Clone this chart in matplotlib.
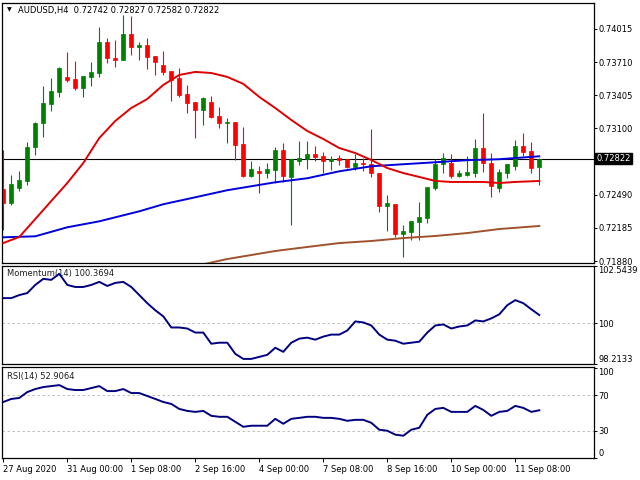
import numpy as np
import matplotlib
matplotlib.use('Agg')
import matplotlib.pyplot as plt

plt.rcParams['font.family'] = 'DejaVu Sans'
plt.rcParams['font.size'] = 6

# H4 candles, AUDUSD
opens = [0.72543, 0.72414, 0.72552, 0.72617, 0.72930, 0.73150, 0.73325, 0.73436, 0.73574, 0.73555,
         0.73472, 0.73574, 0.73610, 0.73896, 0.73748, 0.73730, 0.73969, 0.73850, 0.73868, 0.73767,
         0.73684, 0.73629, 0.73564, 0.73417, 0.73344, 0.73270, 0.73344, 0.73215, 0.73150, 0.73160,
         0.72957, 0.72663, 0.72709, 0.72690, 0.72718, 0.72902, 0.72654, 0.72801, 0.72819, 0.72865,
         0.72847, 0.72801, 0.72828, 0.72819, 0.72746, 0.72782, 0.72773, 0.72690, 0.72387, 0.72405,
         0.72129, 0.72148, 0.72240, 0.72276, 0.72552, 0.72773, 0.72782, 0.72663, 0.72672, 0.72690,
         0.72920, 0.72782, 0.72552, 0.72690, 0.72755, 0.72939, 0.72893, 0.72742]
highs = [0.72902, 0.72672, 0.72709, 0.72976, 0.73160, 0.73491, 0.73564, 0.73666, 0.73804, 0.73721,
         0.73583, 0.73712, 0.74034, 0.73932, 0.73914, 0.74144, 0.74135, 0.73896, 0.73932, 0.73767,
         0.73813, 0.73629, 0.73656, 0.73500, 0.73344, 0.73390, 0.73399, 0.73298, 0.73196, 0.73160,
         0.73114, 0.72801, 0.72755, 0.72782, 0.72930, 0.72966, 0.72819, 0.72985, 0.72985, 0.72939,
         0.72884, 0.72847, 0.72856, 0.72819, 0.72865, 0.72828, 0.73095, 0.72690, 0.72488, 0.72405,
         0.72212, 0.72249, 0.72424, 0.72562, 0.72819, 0.72874, 0.72865, 0.72718, 0.72847, 0.73003,
         0.73242, 0.72874, 0.72727, 0.72773, 0.72994, 0.73058, 0.72976, 0.72827]
lows = [0.72166, 0.72396, 0.72525, 0.72580, 0.72856, 0.73022, 0.73261, 0.73390, 0.73528, 0.73454,
        0.73390, 0.73491, 0.73574, 0.73702, 0.73666, 0.73730, 0.73776, 0.73730, 0.73647, 0.73592,
        0.73592, 0.73353, 0.73390, 0.73242, 0.73012, 0.73132, 0.73196, 0.73104, 0.72966, 0.72810,
        0.72654, 0.72654, 0.72506, 0.72644, 0.72598, 0.72608, 0.72212, 0.72764, 0.72727, 0.72801,
        0.72690, 0.72718, 0.72764, 0.72740, 0.72718, 0.72709, 0.72654, 0.72332, 0.72157, 0.72102,
        0.71918, 0.72074, 0.72074, 0.72230, 0.72534, 0.72690, 0.72644, 0.72654, 0.72663, 0.72654,
        0.72700, 0.72470, 0.72516, 0.72644, 0.72718, 0.72847, 0.72690, 0.72582]
closes = [0.72414, 0.72589, 0.72626, 0.72930, 0.73150, 0.73334, 0.73445, 0.73656, 0.73546, 0.73472,
          0.73583, 0.73620, 0.73896, 0.73748, 0.73730, 0.73969, 0.73850, 0.73868, 0.73758, 0.73712,
          0.73620, 0.73546, 0.73408, 0.73334, 0.73270, 0.73380, 0.73206, 0.73150, 0.73160, 0.72948,
          0.72663, 0.72727, 0.72690, 0.72727, 0.72902, 0.72663, 0.72819, 0.72828, 0.72865, 0.72838,
          0.72801, 0.72819, 0.72810, 0.72746, 0.72782, 0.72773, 0.72690, 0.72387, 0.72414, 0.72129,
          0.72157, 0.72249, 0.72286, 0.72562, 0.72773, 0.72828, 0.72663, 0.72690, 0.72700, 0.72920,
          0.72782, 0.72571, 0.72700, 0.72773, 0.72939, 0.72884, 0.72736, 0.72822]

# moving averages, sampled at bar indices
ma_red_idx = [0, 2, 4, 6, 8, 10, 12, 14, 16, 18, 20, 22, 24, 26, 28, 30, 32,
              34, 36, 38, 40, 42, 44, 46, 48, 50, 52, 54, 56, 58, 60, 62, 64, 67]
ma_red = [0.72046, 0.72102, 0.72267, 0.72433, 0.72598, 0.72782, 0.73012, 0.73169, 0.73288,
          0.73371, 0.73500, 0.73592, 0.73620, 0.73610, 0.73574, 0.73510, 0.73390, 0.73288,
          0.73178, 0.73077, 0.73003, 0.72920, 0.72874, 0.72810, 0.72736, 0.72690, 0.72654,
          0.72617, 0.72608, 0.72608, 0.72608, 0.72598, 0.72608, 0.72617]
ma_blue_idx = [0, 4, 8, 12, 17, 20, 24, 28, 34, 38, 42, 46, 50, 54, 58, 62, 67]
ma_blue = [0.72099, 0.72108, 0.72191, 0.72246, 0.72338, 0.72403, 0.72467, 0.72532, 0.72605,
           0.72642, 0.72706, 0.72752, 0.72771, 0.72789, 0.72808, 0.72817, 0.72844]
ma_brown_idx = [24, 28, 34, 38, 42, 46, 50, 54, 58, 62, 67]
ma_brown = [0.71835, 0.71899, 0.71973, 0.72010, 0.72046, 0.72065, 0.72092, 0.72111,
            0.72138, 0.72175, 0.72203]

momentum = [101.115, 101.115, 101.249, 101.338, 101.696, 101.964, 101.919, 102.187, 101.696, 101.606,
            101.606, 101.696, 101.830, 101.651, 101.785, 101.830, 101.606, 101.249, 100.892, 100.580,
            100.312, 99.821, 99.821, 99.776, 99.597, 99.597, 99.106, 99.151, 99.151, 98.660,
            98.437, 98.437, 98.526, 98.615, 98.928, 98.749, 99.151, 99.329, 99.374, 99.285,
            99.419, 99.508, 99.508, 99.687, 100.088, 100.044, 99.910, 99.508, 99.285, 99.240,
            99.106, 99.151, 99.196, 99.597, 99.910, 99.955, 99.776, 99.865, 99.910, 100.133,
            100.088, 100.222, 100.401, 100.803, 101.026, 100.892, 100.624, 100.3694]
rsi = [62.2, 65.6, 66.7, 73.3, 76.7, 78.9, 80.0, 81.1, 76.7, 75.6,
       75.6, 77.8, 80.0, 74.4, 74.4, 76.7, 72.2, 72.2, 68.9, 65.6,
       62.2, 60.0, 54.4, 52.2, 51.1, 52.2, 46.7, 45.6, 45.6, 40.0,
       34.4, 35.6, 35.6, 35.6, 43.3, 37.8, 43.3, 44.4, 45.6, 45.6,
       44.4, 44.4, 43.3, 41.1, 42.2, 42.2, 38.9, 31.1, 30.0, 25.6,
       24.4, 31.1, 33.3, 47.8, 54.4, 55.6, 51.1, 51.1, 51.1, 57.8,
       53.3, 46.7, 51.1, 52.2, 57.8, 55.6, 51.1, 52.9064]

price_ticks = [0.74015, 0.73710, 0.73405, 0.73100, 0.72490, 0.72185, 0.71880]
mom_ticks = [98.2133, 100, 102.5439]
rsi_ticks = [0, 30, 70, 100]
date_bars = [0, 8, 16, 24, 32, 40, 48, 56, 64]
date_labels = ['27 Aug 2020', '31 Aug 00:00', '1 Sep 08:00', '2 Sep 16:00', '4 Sep 00:00',
               '7 Sep 08:00', '8 Sep 16:00', '10 Sep 00:00', '11 Sep 08:00']

o = np.array(opens)
h = np.array(highs)
l = np.array(lows)
c = np.array(closes)
bars = np.arange(len(c))

fig = plt.figure(figsize=(6.4, 4.8), dpi=100)
left, width = 2 / 640, 592 / 640
ax_p = fig.add_axes([left, 0.4515, width, 0.5423])
ax_m = fig.add_axes([left, 0.2417, width, 0.2048])
ax_r = fig.add_axes([left, 0.0452, width, 0.1908])

for ax in (ax_p, ax_m, ax_r):
    ax.set_xlim(-0.16, 73.84)
    ax.yaxis.tick_right()
    ax.tick_params(axis='y', length=2, pad=1, labelsize=6, width=0.7)
    for sp in ax.spines.values():
        sp.set_linewidth(0.9)
    ax.set_xticks([])

# candles
cols = np.where(c >= o, '#008000', '#ff0000')
ax_p.vlines(bars, l, h, colors=cols, linewidth=0.8, zorder=2)
body_h = np.maximum(np.abs(c - o), 0.00002)
ax_p.bar(bars, body_h, bottom=np.minimum(o, c), width=0.55, color=cols,
         edgecolor=cols, linewidth=0.5, zorder=2)

ax_p.axhline(c[-1], color='black', linewidth=0.8, zorder=1)
ax_p.plot(ma_brown_idx, ma_brown, color='#a0522d', linewidth=1.4, zorder=3)
ax_p.plot(ma_blue_idx, ma_blue, color='#0000dd', linewidth=1.4, zorder=3)
ax_p.plot(ma_red_idx, ma_red, color='#e00000', linewidth=1.4, zorder=3)
ax_p.set_ylim(0.71860, 0.74254)
ax_p.set_yticks(price_ticks)
ax_p.set_yticklabels([f'{v:.5f}' for v in price_ticks])
ax_p.text(1.004, c[-1], f'{c[-1]:.5f}', transform=ax_p.get_yaxis_transform(),
          color='white', fontsize=6, va='center', ha='left',
          bbox=dict(boxstyle='square,pad=0.15', fc='black', ec='black'))

fig.text(7 / 640, 1 - 10 / 480, '\u25bc', fontsize=4.5, va='center')
fig.text(18 / 640, 1 - 10 / 480,
         f'AUDUSD,H4  {o[-1]:.5f} {h[-1]:.5f} {l[-1]:.5f} {c[-1]:.5f}',
         fontsize=6, va='center')

# momentum
ax_m.plot(bars, momentum, color='#000080', linewidth=1.4, zorder=3)
ax_m.axhline(100, color='#b4b4b4', linestyle=(0, (3, 3)), linewidth=0.6, zorder=1)
ax_m.set_ylim(98.2133, 102.5439)
ax_m.set_yticks(mom_ticks)
ax_m.set_yticklabels(['98.2133', '100', '102.5439'])
mlabs = ax_m.get_yticklabels()
mlabs[0].set_va('bottom')
mlabs[2].set_va('top')
ax_m.text(0.0085, 0.916, f'Momentum(14) {momentum[-1]:.4f}', transform=ax_m.transAxes,
          va='center', ha='left', fontsize=6, color='#202020', zorder=1)

# RSI
ax_r.plot(bars, rsi, color='#000080', linewidth=1.4, zorder=3)
for lev in (30, 70):
    ax_r.axhline(lev, color='#b4b4b4', linestyle=(0, (3, 3)), linewidth=0.6, zorder=1)
ax_r.set_ylim(-0.9, 101.7)
ax_r.set_yticks(rsi_ticks)
ax_r.set_yticklabels([str(v) for v in rsi_ticks])
rlabs = ax_r.get_yticklabels()
rlabs[0].set_va('bottom')
rlabs[3].set_va('top')
ax_r.text(0.0085, 0.898, f'RSI(14) {rsi[-1]:.4f}', transform=ax_r.transAxes,
          va='center', ha='left', fontsize=6, color='#202020', zorder=1)

ax_r.set_xticks(date_bars)
ax_r.set_xticklabels(date_labels, ha='left')
ax_r.tick_params(axis='x', length=3, pad=1.5, labelsize=6, width=0.7)

fig.savefig('out.png', dpi=100, facecolor='white')
